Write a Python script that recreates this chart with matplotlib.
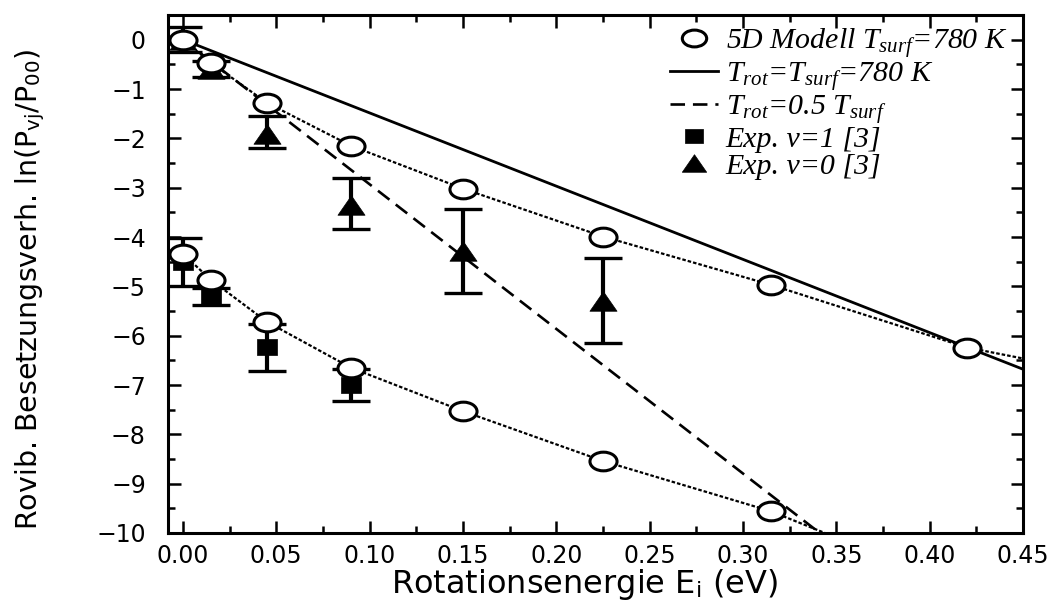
import numpy as np
import matplotlib
matplotlib.use("Agg")
import matplotlib.pyplot as plt
from matplotlib.path import Path

plt.rcParams['font.family'] = ['DejaVu Sans']
plt.rcParams['mathtext.fontset'] = 'custom'
plt.rcParams['mathtext.rm'] = 'DejaVu Sans'
plt.rcParams['mathtext.it'] = 'Liberation Serif:italic'
plt.rcParams['mathtext.bf'] = 'DejaVu Sans:bold'

# ---------------- data ----------------
model_v0_x = [0.0, 0.015, 0.045, 0.09, 0.15, 0.225, 0.315, 0.42, 0.54]
model_v0_y = [0.0, -0.47, -1.28, -2.15, -3.02, -3.99, -4.97, -6.24, -7.13]
model_v1_x = [0.0, 0.015, 0.045, 0.09, 0.15, 0.225, 0.315, 0.42]
model_v1_y = [-4.34, -4.87, -5.72, -6.65, -7.53, -8.54, -9.56, -11.16]

exp_v0_x = [0.0, 0.015, 0.045, 0.09, 0.15, 0.225]
exp_v0_y = [0.0, -0.60, -1.92, -3.35, -4.28, -5.30]
exp_v0_lo = [-0.24, -0.75, -2.20, -3.84, -5.13, -6.14]
exp_v0_hi = [0.26, -0.44, -1.54, -2.81, -3.43, -4.42]

exp_v1_x = [0.0, 0.015, 0.045, 0.09]
exp_v1_y = [-4.50, -5.20, -6.22, -6.99]
exp_v1_lo = [-5.00, -5.37, -6.71, -7.33]
exp_v1_hi = [-4.02, -5.03, -5.76, -6.67]

trot_eq_x = [0.0, 0.45]
trot_eq_y = [0.0, -6.68]
trot_half_x = [0.0, 0.35]
trot_half_y = [0.0, -10.26]

xticks = [0.00, 0.05, 0.10, 0.15, 0.20, 0.25, 0.30, 0.35, 0.40, 0.45]
xticklabels = ["0.00", "0.05", "0.10", "0.15", "0.20", "0.25", "0.30", "0.35", "0.40", "0.45"]
yticks = [0, -1, -2, -3, -4, -5, -6, -7, -8, -9, -10]

# ---------------- custom (horizontally stretched) markers ----------------
circ = Path.unit_circle()
ellipse = Path(circ.vertices * np.array([1.45, 1.0]), circ.codes)
tri = Path([(-1, -0.72), (1, -0.72), (0, 0.72), (-1, -0.72)],
           [Path.MOVETO, Path.LINETO, Path.LINETO, Path.CLOSEPOLY])
rect = Path([(-1, -0.75), (1, -0.75), (1, 0.75), (-1, 0.75), (-1, -0.75)],
            [Path.MOVETO, Path.LINETO, Path.LINETO, Path.LINETO, Path.CLOSEPOLY])

fig = plt.figure(figsize=(10.59, 6.10), dpi=100)
ax = fig.add_axes([168/1059, 1-533/610, (1023-168)/1059, (533-15)/610])

# theory lines
l_eq, = ax.plot(trot_eq_x, trot_eq_y, color='black', lw=2.0)
l_half, = ax.plot(trot_half_x, trot_half_y, color='black', lw=1.9, linestyle=(0, (5.5, 3)))

# experimental error bars
def eb(x, y, lo, hi):
    y = np.array(y); lo = np.array(lo); hi = np.array(hi)
    return ax.errorbar(x, y, yerr=[y - lo, hi - y], fmt='none', ecolor='black',
                       elinewidth=3.0, capsize=14, capthick=2.4, zorder=3)

eb(exp_v0_x, exp_v0_y, exp_v0_lo, exp_v0_hi)
eb(exp_v1_x, exp_v1_y, exp_v1_lo, exp_v1_hi)
h_tri, = ax.plot(exp_v0_x, exp_v0_y, linestyle='none', marker=tri, ms=19.5,
                 mfc='black', mec='black', mew=0.5, zorder=4)
h_sq, = ax.plot(exp_v1_x, exp_v1_y, linestyle='none', marker=rect, ms=14.5,
                mfc='black', mec='black', mew=0.5, zorder=4)

# model
for mx, my in [(model_v0_x, model_v0_y), (model_v1_x, model_v1_y)]:
    ax.plot(mx, my, color='black', lw=1.6, linestyle=(0, (1.6, 0.9)), zorder=5)
    h_circ, = ax.plot(mx, my, linestyle='none', marker=ellipse, ms=19.5,
                      mfc='white', mec='black', mew=2.2, zorder=6)

ax.set_xlim(-0.008, 0.45)
ax.set_ylim(-10, 0.5)
ax.set_xticks(xticks)
ax.set_xticklabels(xticklabels)
ax.set_xticks(np.arange(-0.0, 0.451, 0.025), minor=True)
ax.set_yticks(yticks)
ax.set_yticks(np.arange(-10, 0.51, 0.5), minor=True)
ax.tick_params(which='both', direction='in', top=True, right=True, width=1.8)
ax.tick_params(which='major', length=9, labelsize=17)
ax.tick_params(axis='x', which='major', pad=8)
ax.tick_params(axis='y', which='major', pad=16)
ax.tick_params(which='minor', length=5)
for s in ax.spines.values():
    s.set_linewidth(2.2)

ax.set_xlabel(r"Rotationsenergie E$_{\mathrm{i}}$ (eV)", fontsize=23)
ax.set_ylabel(r"Rovib. Besetzungsverh. ln(P$_{\mathrm{vj}}$/P$_{\mathrm{00}}$)", fontsize=20.5)
ax.xaxis.set_label_coords(0.487, -0.066)
ax.yaxis.set_label_coords(-0.142, 0.47)

leg = ax.legend([h_circ, l_eq, l_half, h_sq, h_tri],
                [r"5D Modell $T_{surf}$=780 K",
                 r"$T_{rot}$=$T_{surf}$=780 K",
                 r"$T_{rot}$=0.5 $T_{surf}$",
                 "Exp. \u03bd=1 [3]",
                 "Exp. \u03bd=0 [3]"],
                loc='upper right', bbox_to_anchor=(0.985, 0.985), frameon=False,
                prop={'family': 'Liberation Serif', 'style': 'italic', 'size': 21.5},
                handlelength=1.6, handletextpad=0.25, labelspacing=0.0,
                borderaxespad=0.0, borderpad=0.1, markerscale=0.9)

fig.savefig("out.png", dpi=100)
